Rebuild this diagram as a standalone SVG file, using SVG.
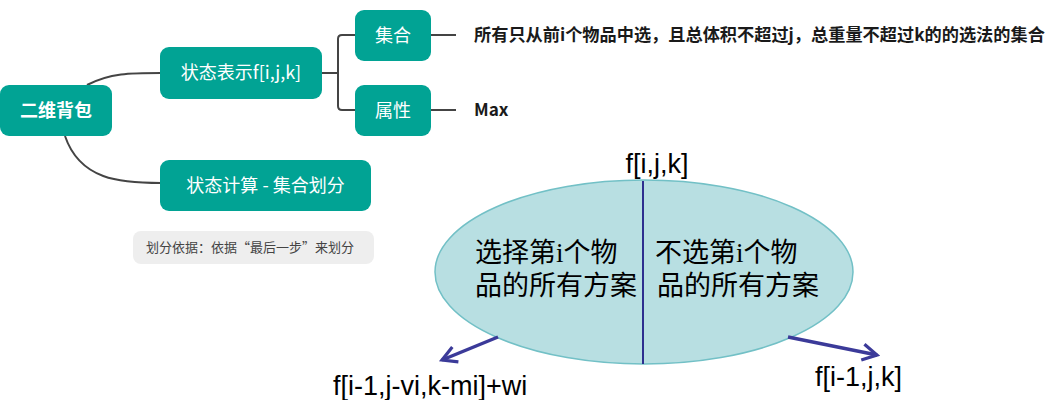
<svg xmlns="http://www.w3.org/2000/svg" width="1061" height="400" viewBox="0 0 1061 400">
<defs>
<style>
.node{fill:#01a394}
.nt{fill:#fff;font-family:"Noto Sans CJK SC","Noto Sans",sans-serif;font-size:18px;text-anchor:middle}
.conn{fill:none;stroke:#444;stroke-width:2}
.lbl{fill:#1a1a1a;font-family:"Noto Sans CJK SC",sans-serif;font-weight:bold;font-size:17.2px}
.big{fill:#000;font-family:"Liberation Sans",Arial,sans-serif;font-size:27px}
.cjk{fill:#000;font-family:"Liberation Serif","Noto Sans CJK SC",serif;font-size:27px}
.arr{fill:none;stroke:#3b3a99;stroke-width:3.5}
</style>
<marker id="ah" viewBox="0 0 12 12" refX="10" refY="6" markerWidth="5.5" markerHeight="5.5" orient="auto" markerUnits="strokeWidth">
<path d="M1,1 L10,6 L1,11" fill="none" stroke="#3b3a99" stroke-width="2"/>
</marker>
</defs>
<rect width="1061" height="400" fill="#fff"/>
<g id="connectors">
<path class="conn" d="M87,85 C110,73 130,73 161,73"/>
<path class="conn" d="M65,136 C80,180 120,183 161,183"/>
<path class="conn" d="M322,73 H338 M355,35 H342 Q338,35 338,39 V106 Q338,110 342,110 H355"/>
<path class="conn" d="M431,35 H456 M431,110 H456"/>
</g>
<g id="root"><rect class="node" x="0" y="85" width="112" height="51" rx="9"/><text class="nt" x="56" y="117" font-weight="bold" font-size="19.5">二维背包</text></g>
<g id="state-rep"><rect class="node" x="160" y="47" width="162" height="52" rx="9"/><text class="nt" x="241" y="79">状态表示f[i,j,k]</text></g>
<g id="set"><rect class="node" x="355" y="10" width="76" height="51" rx="9"/><text class="nt" x="393" y="42">集合</text></g>
<g id="attr"><rect class="node" x="355" y="85" width="76" height="51" rx="9"/><text class="nt" x="393" y="117">属性</text></g>
<g id="state-calc"><rect class="node" x="160" y="160" width="211" height="51" rx="9"/><text class="nt" x="265.5" y="192">状态计算 - 集合划分</text></g>
<g id="set-desc"><text class="lbl" x="474" y="41">所有只从前i个物品中选，且总体积不超过j，总重量不超过k的的选法的集合</text></g>
<g id="attr-desc"><text class="lbl" x="474" y="116">Max</text></g>
<g id="note"><rect x="133" y="231" width="241" height="33" rx="8" fill="#eeeeee"/><text x="146" y="252" font-family="Noto Sans CJK SC,sans-serif" font-size="13" fill="#444">划分依据：依据“最后一步”来划分</text></g>
<g id="ellipse">
<ellipse cx="644" cy="272" rx="209" ry="92" fill="#b8dfe2" stroke="#72c0c6" stroke-width="1.5"/>
<line x1="643" y1="181" x2="643" y2="364" stroke="#2e2f8f" stroke-width="2"/>
<text class="big" x="657" y="173" text-anchor="middle">f[i,j,k]</text>
<text class="cjk" x="475" y="262">选择第i个物</text>
<text class="cjk" x="475" y="295">品的所有方案</text>
<text class="cjk" x="655" y="262">不选第i个物</text>
<text class="cjk" x="657" y="295">品的所有方案</text>
</g>
<g id="arrows">
<line class="arr" x1="498" y1="337" x2="442" y2="360" marker-end="url(#ah)"/>
<line class="arr" x1="788" y1="337" x2="877" y2="355" marker-end="url(#ah)"/>
</g>
<text class="big" x="333" y="395">f[i-1,j-vi,k-mi]+wi</text>
<text class="big" x="815" y="386">f[i-1,j,k]</text>
</svg>
